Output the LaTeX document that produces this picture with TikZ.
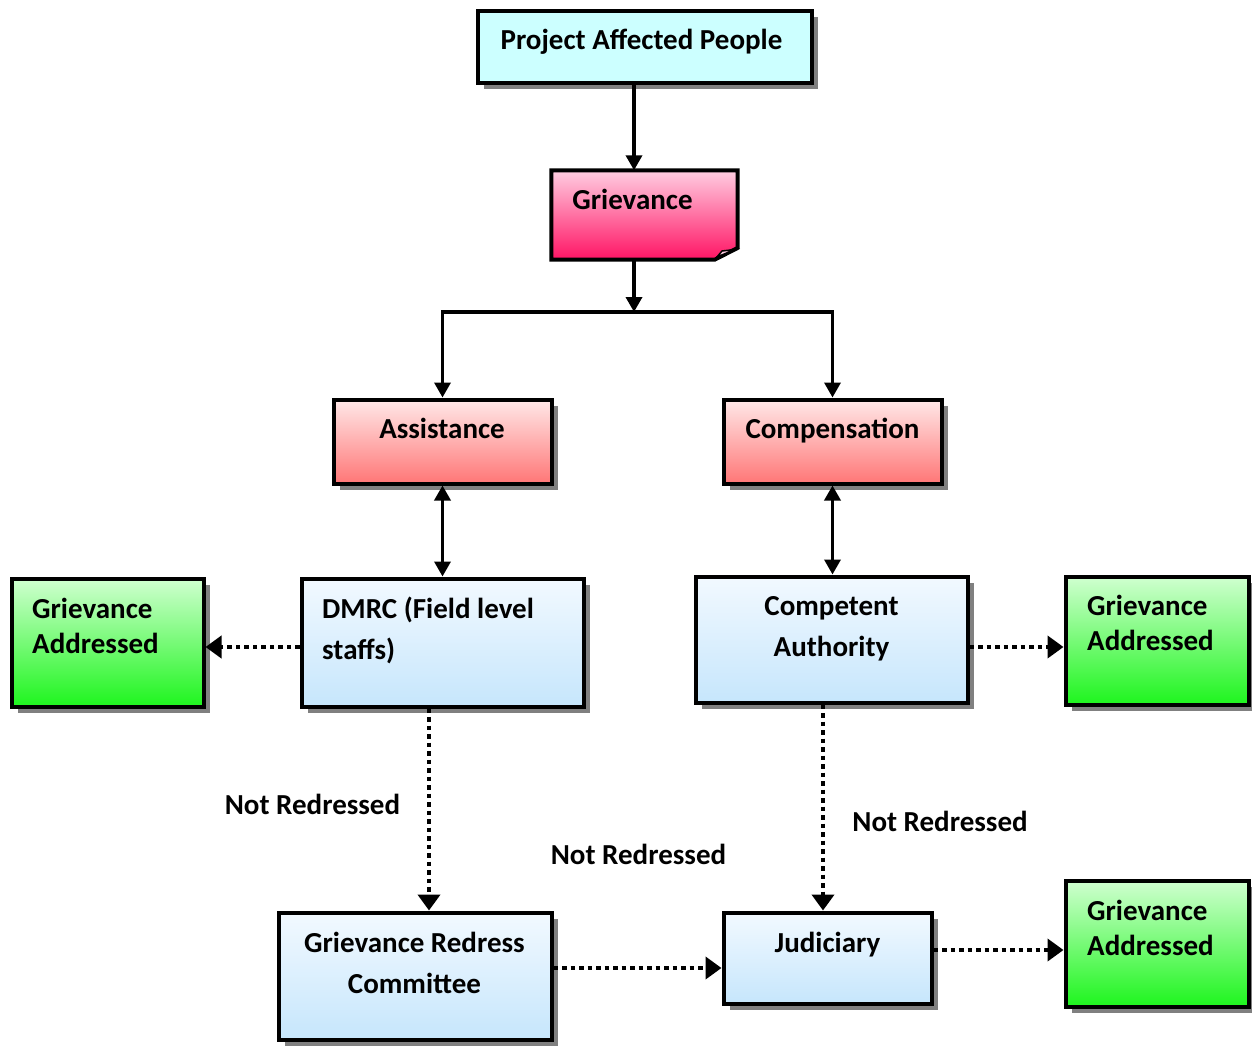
\documentclass[tikz,border=0pt]{standalone}
\usepackage{fontspec}
\setmainfont{Carlito}
\usetikzlibrary{positioning}
\usetikzlibrary{arrows.meta}
\usetikzlibrary{shadows}

\definecolor{papcyan}{RGB}{204,255,255}
\definecolor{grvtop}{RGB}{255,205,225}
\definecolor{grvbot}{RGB}{255,20,100}
\definecolor{redtop}{RGB}{255,232,232}
\definecolor{redbot}{RGB}{255,118,118}
\definecolor{bluetop}{RGB}{242,249,255}
\definecolor{bluebot}{RGB}{198,230,252}
\definecolor{greentop}{RGB}{208,255,208}
\definecolor{greenbot}{RGB}{30,245,30}

\tikzset{
  box/.style={draw=black, line width=4pt, inner sep=0pt,
    drop shadow={shadow xshift=6pt, shadow yshift=-6pt, fill=black!50, opacity=1}},
  papbox/.style={box, fill=papcyan},
  redbox/.style={box, top color=redtop, bottom color=redbot},
  bluebox/.style={box, top color=bluetop, bottom color=bluebot},
  greenbox/.style={box, top color=greentop, bottom color=greenbot},
  txt/.style={inner sep=0pt, font=\fontsize{29}{41}\selectfont\bfseries},
  gatxt/.style={txt, font=\fontsize{29}{35}\selectfont\bfseries},
  arr/.style={line width=3.5pt, -{Triangle[length=15pt,width=16pt]}},
  dbl/.style={line width=3.5pt, {Triangle[length=15pt,width=16pt]}-{Triangle[length=15pt,width=16pt]}},
  dots/.style={line width=4.5pt, dash pattern=on 4.5pt off 4pt, -{Triangle[length=16pt,width=22pt]}}
}

\begin{document}
\begin{tikzpicture}[x=1pt, y=-1pt]
        \useasboundingbox (0,0) rectangle (1252,1047);

        % Define the boxes
        \node[papbox, minimum width=334pt, minimum height=72pt] (pap) at (644.5,46.5) {};
        \node[inner sep=0pt, minimum width=186pt, minimum height=89pt,
              top color=grvtop, bottom color=grvbot] (griev) at (644.5,215) {};
        \node[redbox, minimum width=218pt, minimum height=84pt] (assist) at (442.5,441.5) {};
        \node[redbox, minimum width=218pt, minimum height=84pt] (comp) at (832.5,441.5) {};
        \node[bluebox, minimum width=282pt, minimum height=128pt] (dmrc) at (442.5,642.5) {};
        \node[bluebox, minimum width=272pt, minimum height=126pt] (auth) at (831.5,639.5) {};
        \node[greenbox, minimum width=192pt, minimum height=128pt] (doneleft) at (107.5,642.5) {};
        \node[greenbox, minimum width=183pt, minimum height=128pt] (doneright) at (1157,640.5) {};
        \node[greenbox, minimum width=183pt, minimum height=126pt] (donelow) at (1157,943.5) {};
        \node[bluebox, minimum width=273pt, minimum height=127pt] (grc) at (415,976) {};
        \node[bluebox, minimum width=208pt, minimum height=91pt] (judic) at (827.5,958) {};

        % Folded corner of the grievance box
        \coordinate (foldtop) at (737.5,248);
        \coordinate (foldlow) at (715,259.5);
        \fill[white] (foldlow) -- ([shift={(2pt,-2pt)}]griev.south east) -- (foldtop) -- cycle;
        \draw[line width=4pt, line join=miter] (griev.north west) -- (griev.north east)
             -- (foldtop) -- (foldlow) -- (griev.south west) -- cycle;
        \filldraw[fill=grvtop, line width=1.5pt] (717,257) -- (722,251) -- (735,249.5) -- cycle;

        % Texts
        \node[txt, anchor=base] (paptxt) at (641.5,49) {Project Affected People};
        \node[txt, anchor=base] (grievtxt) at (632.5,209) {Grievance};
        \node[txt, anchor=base] (assisttxt) at (442,438) {Assistance};
        \node[txt, anchor=base] (comptxt) at (832.5,438) {Compensation};
        \node[txt, anchor=base west, align=left] (dmrctxt) at (322,659) {DMRC (Field level\\staffs)};
        \node[txt, anchor=base, align=center] (authtxt) at (831.5,656) {Competent\\Authority};
        \node[txt, anchor=base, align=center] (grctxt) at (414.5,993) {Grievance Redress\\Committee};
        \node[txt, anchor=base] (judictxt) at (827.5,952) {Judiciary};
        \foreach \name/\x/\y in {doneleft/32/653, doneright/1087/650, donelow/1087/955}
          \node[gatxt, anchor=base west, align=left] (\name txt) at (\x,\y) {Grievance\\Addressed};

        % Draw the solid arrows
        \coordinate (split) at (634,312);
        \draw[arr] (pap.south -| split) -- (griev.north -| split);
        \draw[arr] (griev.south -| split) -- (split);
        \draw[line width=3.5pt, line cap=rect] (split -| assist.north) -- (split -| comp.north);
        \draw[arr] (split -| assist.north) -- (assist.north);
        \draw[arr] (split -| comp.north) -- (comp.north);
        \draw[dbl] (assist.south) -- (dmrc.north);
        \draw[dbl] (comp.south) -- (comp.south |- auth.north);

        % Draw the dotted arrows
        \draw[dots] ([yshift=-4.5pt]dmrc.west) -- ([yshift=-4.5pt]dmrc.west -| doneleft.east);
        \draw[dots] ([yshift=-7.5pt]auth.east) -- ([yshift=-7.5pt]auth.east -| doneright.west);
        \draw[dots] ([xshift=-13.5pt]dmrc.south) -- ([xshift=-13.5pt]dmrc.south |- grc.north);
        \draw[dots] ([xshift=-8.5pt]auth.south) -- ([xshift=-8.5pt]auth.south |- judic.north);
        \draw[dots] ([yshift=8pt]grc.east) -- ([yshift=8pt]grc.east -| judic.west);
        \draw[dots] ([yshift=8pt]judic.east) -- ([yshift=8pt]judic.east -| donelow.west);

        \foreach \name/\x/\y in {notleft/312.5/814, notmid/638.5/864, notright/940/831}
          \node[txt, anchor=base] (\name) at (\x,\y) {Not Redressed};
\end{tikzpicture}
\end{document}
